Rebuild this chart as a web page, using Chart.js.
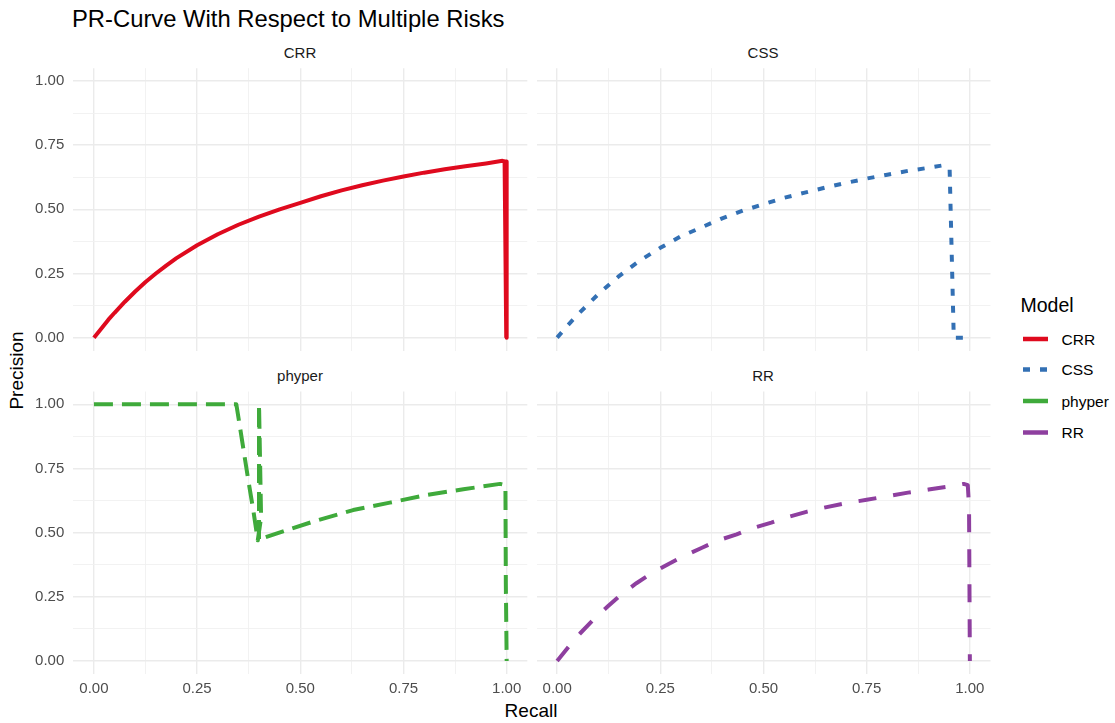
<!DOCTYPE html>
<html>
<head>
<meta charset="utf-8">
<script src="https://cdn.jsdelivr.net/npm/chart.js@4/dist/chart.umd.min.js"></script>
<style>
  html, body { margin:0; padding:0; background:#fff; }
  body { width:1115px; height:723px; position:relative; overflow:hidden; font-family:"Liberation Sans", Arial, Helvetica, sans-serif; }
  canvas { position:absolute; }
  .t { position:absolute; white-space:nowrap; line-height:1; }
</style>
</head>
<body>
<div class="t" id="title" style="left:72px; top:6.5px; font-size:23.8px; color:#000;">PR-Curve With Respect to Multiple Risks</div>
<div class="t strip" style="left:200px; width:200px; text-align:center; top:44.5px; font-size:15px; color:#1A1A1A;">CRR</div>
<div class="t strip" style="left:663px; width:200px; text-align:center; top:44.5px; font-size:15px; color:#1A1A1A;">CSS</div>
<div class="t strip" style="left:200px; width:200px; text-align:center; top:368px; font-size:15px; color:#1A1A1A;">phyper</div>
<div class="t strip" style="left:663px; width:200px; text-align:center; top:368px; font-size:15px; color:#1A1A1A;">RR</div>
<div class="t" style="left:431px; width:200px; text-align:center; top:700.5px; font-size:19px; color:#000;">Recall</div>
<div class="t" style="left:-84px; width:200px; text-align:center; top:361px; font-size:19px; color:#000; transform:rotate(-90deg);">Precision</div>

<div class="t" style="left:1020.5px; top:295.5px; font-size:19.5px; color:#000;">Model</div>
<svg style="position:absolute; left:1015px; top:325px;" width="40" height="120">
  <line id="k0" x1="8" x2="33" y1="14" y2="14" stroke-width="4.5"/>
  <line id="k1" x1="8" x2="33" y1="44.5" y2="44.5" stroke-width="4.5"/>
  <line id="k2" x1="8" x2="33" y1="76" y2="76" stroke-width="4.5"/>
  <line id="k3" x1="8" x2="33" y1="107.5" y2="107.5" stroke-width="4.5"/>
</svg>
<div class="t leg" style="left:1061.5px; top:331.5px; font-size:15.5px;">CRR</div>
<div class="t leg" style="left:1061.5px; top:362px; font-size:15.5px;">CSS</div>
<div class="t leg" style="left:1061.5px; top:393.5px; font-size:15.5px;">phyper</div>
<div class="t leg" style="left:1061.5px; top:425px; font-size:15.5px;">RR</div>

<canvas id="cTL"></canvas>
<canvas id="cTR"></canvas>
<canvas id="cBL"></canvas>
<canvas id="cBR"></canvas>

<script>
// ---------- data ----------
const models = ['CRR', 'CSS', 'phyper', 'RR'];
const colors = ['#DF0A1E', '#3370B4', '#3FAA3B', '#8E3F9F'];

const tickValues = [0, 0.25, 0.5, 0.75, 1];
const tickLabels = ['0.00', '0.25', '0.50', '0.75', '1.00'];
const minorValues = [0.125, 0.375, 0.625, 0.875];

const crrRecall    = [0, 0.02, 0.035, 0.05, 0.075, 0.10, 0.125, 0.15, 0.175, 0.20, 0.25, 0.30, 0.35, 0.40, 0.45, 0.50, 0.55, 0.60, 0.65, 0.70, 0.75, 0.80, 0.85, 0.90, 0.95, 0.99, 1.00, 1.00, 0.995, 0.999];
const crrPrecision = [0, 0.04, 0.07, 0.097, 0.14, 0.18, 0.217, 0.25, 0.281, 0.31, 0.36, 0.403, 0.44, 0.472, 0.50, 0.525, 0.551, 0.574, 0.594, 0.612, 0.628, 0.643, 0.656, 0.668, 0.679, 0.689, 0.686, 0, 0.685, 0];

const cssRecall    = [0, 0.025, 0.05, 0.075, 0.10, 0.15, 0.20, 0.25, 0.30, 0.35, 0.40, 0.45, 0.50, 0.55, 0.60, 0.65, 0.70, 0.75, 0.80, 0.85, 0.90, 0.937, 0.951, 0.961, 1.00];
const cssPrecision = [0, 0.047, 0.09, 0.13, 0.17, 0.24, 0.30, 0.35, 0.395, 0.43, 0.465, 0.495, 0.52, 0.545, 0.565, 0.585, 0.603, 0.62, 0.635, 0.65, 0.662, 0.672, 0.655, 0.0, 0.0];

const phyperRecall    = [0, 0.345, 0.352, 0.374, 0.386, 0.397, 0.405, 0.40, 0.40, 0.403, 0.475, 0.531, 0.628, 0.717, 0.806, 0.895, 0.984, 0.997, 0.998, 1.00];
const phyperPrecision = [1, 1.00, 0.93, 0.704, 0.588, 0.47, 0.56, 1.00, 0.47, 0.475, 0.514, 0.543, 0.588, 0.617, 0.647, 0.669, 0.69, 0.685, 0.30, 0];

const rrRecall    = [0, 0.028, 0.056, 0.087, 0.123, 0.154, 0.192, 0.228, 0.27, 0.306, 0.351, 0.39, 0.435, 0.474, 0.519, 0.559, 0.606, 0.646, 0.70, 0.75, 0.80, 0.85, 0.90, 0.95, 0.985, 0.995, 0.998, 1.00];
const rrPrecision = [0, 0.056, 0.108, 0.16, 0.213, 0.257, 0.303, 0.341, 0.378, 0.408, 0.441, 0.47, 0.493, 0.518, 0.539, 0.561, 0.582, 0.597, 0.615, 0.628, 0.642, 0.656, 0.668, 0.68, 0.69, 0.685, 0.60, 0];

const dashes = [[], [7, 10], [19, 9], [18, 17]];

// ---------- legend keys ----------
for (let i = 0; i < 4; i++) {
  const k = document.getElementById('k' + i);
  k.setAttribute('stroke', colors[i]);
  if (i === 1) k.setAttribute('stroke-dasharray', dashes[1].join(' '));
}

// ---------- panels ----------
function pts(xs, ys) { return xs.map((x, i) => ({ x: x, y: ys[i] })); }

const tickFont = { family: '"Liberation Sans", Arial, Helvetica, sans-serif', size: 15 };
const allTicks = [0, 0.125, 0.25, 0.375, 0.5, 0.625, 0.75, 0.875, 1];

function isMajor(v) { return tickValues.some(t => Math.abs(t - v) < 1e-9); }
function label(v) {
  const i = tickValues.findIndex(t => Math.abs(t - v) < 1e-9);
  return i >= 0 ? tickLabels[i] : '';
}

function makePanel(id, cv, area, showX, showY, idx, xs, ys) {
  const c = document.getElementById(id);
  c.width = cv.r - cv.l; c.height = cv.b - cv.t;
  c.style.left = cv.l + 'px'; c.style.top = cv.t + 'px';
  c.style.width = c.width + 'px'; c.style.height = c.height + 'px';
  const gridOpts = {
    drawTicks: false,
    color: ctx => isMajor(ctx.tick.value) ? '#EBEBEB' : '#F1F1F1',
    lineWidth: ctx => isMajor(ctx.tick.value) ? 1.4 : 0.9
  };
  const zeroPad = s => { s.paddingTop = 0; s.paddingBottom = 0; s.paddingLeft = 0; s.paddingRight = 0; };
  new Chart(c, {
    type: 'line',
    data: {
      datasets: [{
        label: models[idx],
        data: pts(xs, ys),
        borderColor: colors[idx],
        borderWidth: 4,
        borderDash: dashes[idx],
        borderCapStyle: 'butt',
        borderJoinStyle: 'round',
        pointRadius: 0,
        tension: 0,
        fill: false
      }]
    },
    options: {
      responsive: false,
      animation: false,
      events: [],
      devicePixelRatio: 1,
      layout: {
        padding: {
          left: showY ? 0 : area.l - cv.l,
          right: cv.r - area.r,
          top: area.t - cv.t,
          bottom: showX ? 0 : cv.b - area.b
        }
      },
      plugins: { legend: { display: false }, tooltip: { enabled: false } },
      scales: {
        x: {
          type: 'linear', min: -0.05, max: 1.05,
          afterBuildTicks: s => { s.ticks = allTicks.map(v => ({ value: v })); },
          afterFit: s => { s.height = showX ? cv.b - area.b : 0; zeroPad(s); },
          ticks: { display: showX, autoSkip: false, maxRotation: 0, padding: 6, color: '#4D4D4D', font: tickFont, callback: v => label(v) },
          grid: gridOpts,
          border: { display: false }
        },
        y: {
          type: 'linear', min: -0.05, max: 1.05,
          afterBuildTicks: s => { s.ticks = allTicks.map(v => ({ value: v })); },
          afterFit: s => { s.width = showY ? area.l - cv.l : 0; zeroPad(s); },
          ticks: { display: showY, autoSkip: false, padding: 9, color: '#4D4D4D', font: tickFont, callback: v => label(v) },
          grid: gridOpts,
          border: { display: false }
        }
      }
    }
  });
}

const colL = { l: 73.3, r: 527.3 }, colR = { l: 536.5, r: 990.5 };
const rowT = { t: 68.2, b: 350.5 }, rowB = { t: 391.5, b: 673.8 };

makePanel('cTL', { l: 0, t: 40, r: 531, b: 356 }, { l: colL.l, r: colL.r, t: rowT.t, b: rowT.b }, false, true, 0, crrRecall, crrPrecision);
makePanel('cTR', { l: 532, t: 40, r: 995, b: 356 }, { l: colR.l, r: colR.r, t: rowT.t, b: rowT.b }, false, false, 1, cssRecall, cssPrecision);
makePanel('cBL', { l: 0, t: 372, r: 531, b: 702 }, { l: colL.l, r: colL.r, t: rowB.t, b: rowB.b }, true, true, 2, phyperRecall, phyperPrecision);
makePanel('cBR', { l: 532, t: 372, r: 995, b: 702 }, { l: colR.l, r: colR.r, t: rowB.t, b: rowB.b }, true, false, 3, rrRecall, rrPrecision);
</script>
</body>
</html>
